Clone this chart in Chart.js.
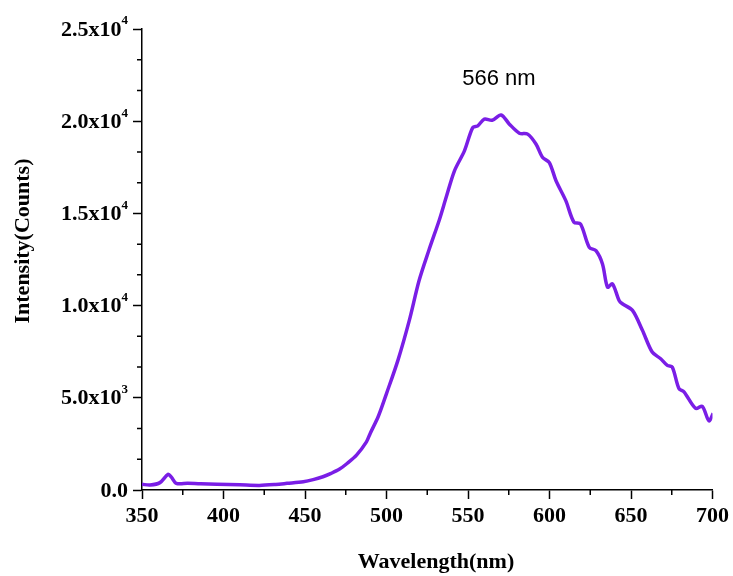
<!DOCTYPE html>
<html>
<head>
<meta charset="utf-8">
<script src="https://cdn.jsdelivr.net/npm/chart.js@4"></script>
<style>
  html, body { margin: 0; padding: 0; background: #fff; }
  #wrap { width: 733px; height: 576px; }
</style>
</head>
<body>
<div id="wrap"><canvas id="pl"></canvas></div>
<script>
// emission spectrum
const wavelength = [350, 355, 361, 366, 368, 371, 378, 386, 396, 410, 422, 432, 439, 449, 455, 461, 466, 471, 476, 481.6, 487.7, 490, 495, 500, 507, 514, 520, 526, 532.6, 536.7, 541.7, 547.8, 552.9, 556, 560, 564.8, 570.3, 575.4, 581.5, 586.6, 591.7, 595.8, 599.9, 604, 610, 615, 619, 624.4, 628.5, 632.5, 635.6, 638.6, 642.7, 644.7, 650.9, 657, 663, 668.2, 672.3, 675.3, 679.4, 682.5, 689.7, 693.7, 697.8, 700.4];
const intensity = [310, 270, 400, 850, 700, 360, 360, 340, 310, 280, 250, 300, 360, 450, 560, 720, 900, 1120, 1450, 1890, 2610, 3070, 4000, 5230, 7030, 9200, 11360, 13000, 14700, 15900, 17310, 18390, 19650, 19750, 20110, 20050, 20340, 19840, 19350, 19300, 18760, 18030, 17760, 16770, 15690, 14520, 14430, 13160, 12980, 12260, 11000, 11180, 10280, 10100, 9740, 8660, 7480, 7120, 6760, 6670, 5500, 5320, 4420, 4540, 3750, 4150];

const yTickValues = [0, 5000, 10000, 15000, 20000, 25000];
const yTickMantissa = ['0.0', '5.0x10', '1.0x10', '1.5x10', '2.0x10', '2.5x10'];
const yTickExp = ['', '3', '4', '4', '4', '4'];
const xMinorTicks = [375, 425, 475, 525, 575, 625, 675];
const yMinorTicks = [1666.7, 3333.3, 6666.7, 8333.3, 11666.7, 13333.3, 16666.7, 18333.3, 21666.7, 23333.3];

const peakLabel = { text: '566 nm', x: 569, y: 22300 };
const xTitle = 'Wavelength(nm)';
const yTitle = 'Intensity(Counts)';

const serif = "'Liberation Serif', 'Times New Roman', serif";

const extras = {
  id: 'extras',
  afterDraw(chart) {
    const ctx = chart.ctx;
    const xs = chart.scales.x, ys = chart.scales.y;
    const area = chart.chartArea;
    ctx.save();
    ctx.strokeStyle = '#000';
    ctx.lineWidth = 1.5;
    // minor ticks
    ctx.beginPath();
    xMinorTicks.forEach(v => {
      const px = xs.getPixelForValue(v);
      ctx.moveTo(px, area.bottom);
      ctx.lineTo(px, area.bottom + 5);
    });
    yMinorTicks.forEach(v => {
      const py = ys.getPixelForValue(v);
      ctx.moveTo(area.left, py);
      ctx.lineTo(area.left - 5, py);
    });
    ctx.stroke();

    // y labels with superscript
    ctx.fillStyle = '#000';
    ctx.textBaseline = 'middle';
    const right = area.left - 14;
    yTickValues.forEach((v, i) => {
      const py = ys.getPixelForValue(v);
      ctx.font = 'bold 13px ' + serif;
      const ew = yTickExp[i] ? ctx.measureText(yTickExp[i]).width : 0;
      ctx.textAlign = 'right';
      if (yTickExp[i]) ctx.fillText(yTickExp[i], right, py - 8);
      ctx.font = 'bold 22px ' + serif;
      ctx.fillText(yTickMantissa[i], right - ew, py + 1);
    });

    // axis titles
    ctx.font = 'bold 22px ' + serif;
    ctx.textAlign = 'center';
    ctx.fillText(xTitle, 436, 562);
    ctx.save();
    ctx.translate(23, 241);
    ctx.rotate(-Math.PI / 2);
    ctx.fillText(yTitle, 0, 0);
    ctx.restore();

    // peak annotation
    ctx.font = "22px 'Liberation Sans', Arial, sans-serif";
    ctx.textAlign = 'center';
    ctx.fillText(peakLabel.text, xs.getPixelForValue(peakLabel.x), ys.getPixelForValue(peakLabel.y));
    ctx.restore();
  }
};

new Chart(document.getElementById('pl'), {
  type: 'line',
  data: {
    datasets: [{
      data: wavelength.map((w, i) => ({ x: w, y: intensity[i] })),
      borderColor: '#7a1ee6',
      borderWidth: 3.5,
      pointRadius: 0,
      tension: 0.3,
      fill: false
    }]
  },
  options: {
    responsive: true,
    maintainAspectRatio: false,
    animation: false,
    layout: { padding: { left: 0, top: 29, right: 19, bottom: 0 } },
    plugins: { legend: { display: false }, tooltip: { enabled: false } },
    scales: {
      x: {
        type: 'linear',
        min: 350,
        max: 700,
        afterFit(scale) { scale.height = 86; },
        border: { display: true, color: '#000', width: 1.5 },
        grid: { drawOnChartArea: false, drawTicks: true, tickLength: 9, tickColor: '#000', tickWidth: 1.5 },
        ticks: { stepSize: 50, color: '#000', padding: 4, maxRotation: 0, font: { family: serif, size: 22, weight: 'bold' } }
      },
      y: {
        min: 0,
        max: 25000,
        afterFit(scale) { scale.width = 142; },
        border: { display: true, color: '#000', width: 1.5 },
        grid: { drawOnChartArea: false, drawTicks: true, tickLength: 9, tickColor: '#000', tickWidth: 1.5 },
        ticks: { stepSize: 5000, color: '#000', callback: () => '', font: { family: serif, size: 22, weight: 'bold' } }
      }
    }
  },
  plugins: [extras]
});
</script>
</body>
</html>
